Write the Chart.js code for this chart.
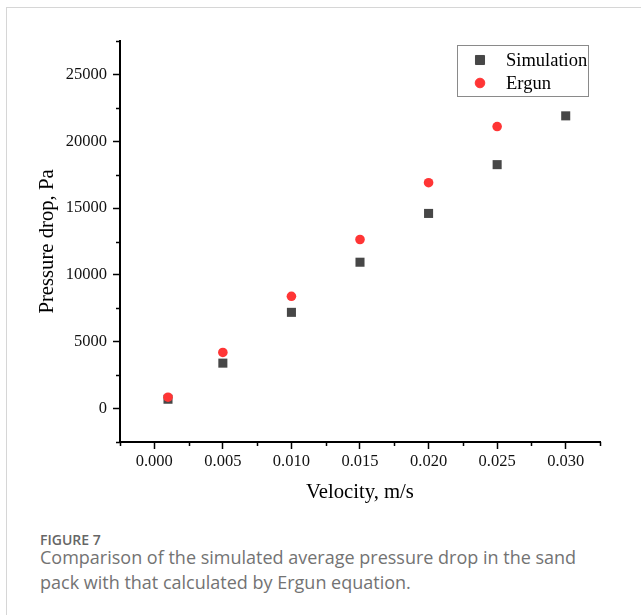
<!DOCTYPE html>
<html>
<head>
<meta charset="utf-8">
<title>Pressure drop vs velocity</title>
<script src="https://cdn.jsdelivr.net/npm/chart.js@4.4.0/dist/chart.umd.min.js"></script>
<style>
  html, body { margin: 0; padding: 0; background: #fff; }
  body { width: 641px; height: 615px; position: relative; overflow: hidden; }
  .frame {
    position: absolute; left: 6px; top: 7px; width: 700px; height: 700px;
    border-top: 1px solid #d6d6d6; border-left: 1px solid #d6d6d6;
  }
  .plot { position: absolute; left: 0; top: 0; width: 641px; height: 520px; }
  .fig-no {
    position: absolute; left: 40px; top: 531px;
    font: 600 14px/18px "Open Sans", sans-serif; color: #666;
  }
  .fig-cap {
    position: absolute; left: 40px; top: 545px; width: 560px;
    font: 400 18px/25px "Open Sans", sans-serif; color: #737373;
  }
</style>
</head>
<body>
<div class="frame"></div>
<div class="plot"><canvas id="chart" width="641" height="520"></canvas></div>
<div class="fig-no">FIGURE 7</div>
<div class="fig-cap">Comparison of the simulated average pressure drop in the sand pack with that calculated by Ergun equation.</div>

<script>
// ---- data ----
const SIM_VELOCITY = [0.001, 0.005, 0.010, 0.015, 0.020, 0.025, 0.030];
const SIM_DROP = [700, 3400, 7200, 10950, 14600, 18250, 21900];
const ERGUN_VELOCITY = [0.001, 0.005, 0.010, 0.015, 0.020, 0.025];
const ERGUN_DROP = [850, 4200, 8400, 12650, 16900, 21100];

const X_TICKS = [0, 0.005, 0.010, 0.015, 0.020, 0.025, 0.030];
const Y_TICKS = [0, 5000, 10000, 15000, 20000, 25000];
const X_RANGE = [-0.0025, 0.0325];
const Y_RANGE = [-2500, 27500];

const SERIF = "'Liberation Serif', 'Times New Roman', serif";

const toPoints = (xs, ys) => xs.map((v, i) => ({ x: v, y: ys[i] }));

// minor ticks sit half way between majors, plus one half-step past each end
function halfSteps(ticks) {
  const step = ticks[1] - ticks[0];
  const out = [ticks[0] - step / 2];
  ticks.forEach(t => out.push(t + step / 2));
  return out;
}

const minorTicks = {
  id: 'minorTicks',
  afterDraw(chart) {
    const { ctx, chartArea: a, scales: { x, y } } = chart;
    ctx.save();
    ctx.strokeStyle = '#000';
    ctx.lineWidth = 1.5;
    ctx.beginPath();
    halfSteps(X_TICKS).forEach(v => {
      const px = Math.round(x.getPixelForValue(v)) + 0.5;
      ctx.moveTo(px, a.bottom);
      ctx.lineTo(px, a.bottom + 4);
    });
    halfSteps(Y_TICKS).forEach(v => {
      const py = Math.round(y.getPixelForValue(v)) + 0.5;
      ctx.moveTo(a.left, py);
      ctx.lineTo(a.left - 4, py);
    });
    ctx.stroke();
    ctx.restore();
  }
};

// boxed legend in the upper right corner
const boxLegend = {
  id: 'boxLegend',
  afterDraw(chart) {
    const { ctx } = chart;
    const box = { x: 457.5, y: 45.5, w: 131, h: 51 };
    ctx.save();
    ctx.strokeStyle = '#8a8a8a';
    ctx.lineWidth = 1;
    ctx.strokeRect(box.x, box.y, box.w, box.h);
    ctx.font = '18.5px ' + SERIF;
    ctx.textBaseline = 'middle';
    chart.data.datasets.forEach((ds, i) => {
      const cy = 60 + i * 23;
      ctx.fillStyle = ds.backgroundColor;
      ctx.strokeStyle = ds.borderColor;
      ctx.lineWidth = 1;
      Chart.helpers.drawPoint(ctx, { pointStyle: ds.pointStyle, radius: ds.pointRadius, borderWidth: 1, rotation: 0 }, 480, cy);
      ctx.fillStyle = '#000';
      ctx.fillText(ds.label, 506, cy + 1);
    });
    ctx.restore();
  }
};

new Chart(document.getElementById('chart'), {
  type: 'scatter',
  data: {
    datasets: [
      {
        label: 'Simulation',
        data: toPoints(SIM_VELOCITY, SIM_DROP),
        pointStyle: 'rect',
        pointRadius: 6.4,
        backgroundColor: '#474747',
        borderColor: '#474747',
        borderWidth: 0,
        order: 2
      },
      {
        label: 'Ergun',
        data: toPoints(ERGUN_VELOCITY, ERGUN_DROP),
        pointStyle: 'circle',
        pointRadius: 4.8,
        backgroundColor: '#ff3535',
        borderColor: '#ff3535',
        borderWidth: 0,
        order: 1
      }
    ]
  },
  options: {
    responsive: false,
    animation: false,
    events: [],
    layout: { padding: { top: 41, right: 41, left: 0, bottom: 0 } },
    plugins: { legend: { display: false }, tooltip: { enabled: false } },
    scales: {
      x: {
        type: 'linear',
        min: X_RANGE[0], max: X_RANGE[1],
        afterBuildTicks: s => { s.ticks = X_TICKS.map(v => ({ value: v })); },
        afterFit: s => { s.height = 78; },
        border: { color: '#000', width: 2 },
        grid: { drawOnChartArea: false, drawTicks: true, tickLength: 7, tickColor: '#000', tickWidth: 1.5 },
        ticks: { callback: v => v.toFixed(3), color: '#111', padding: 3, maxRotation: 0, font: { family: SERIF, size: 16.5 } },
        title: { display: true, text: 'Velocity, m/s', color: '#000', padding: { top: 0, bottom: 15 }, font: { family: SERIF, size: 20.7 } }
      },
      y: {
        type: 'linear',
        min: Y_RANGE[0], max: Y_RANGE[1],
        afterBuildTicks: s => { s.ticks = Y_TICKS.map(v => ({ value: v })); },
        afterFit: s => { s.width = 120; },
        border: { color: '#000', width: 2 },
        grid: { drawOnChartArea: false, drawTicks: true, tickLength: 7, tickColor: '#000', tickWidth: 1.5 },
        ticks: { callback: v => String(v), color: '#111', padding: 6, font: { family: SERIF, size: 16.5 } },
        title: { display: true, text: 'Pressure drop, Pa', color: '#000', padding: { top: 35, bottom: 0 }, font: { family: SERIF, size: 20.7 } }
      }
    }
  },
  plugins: [minorTicks, boxLegend]
});
</script>
</body>
</html>
